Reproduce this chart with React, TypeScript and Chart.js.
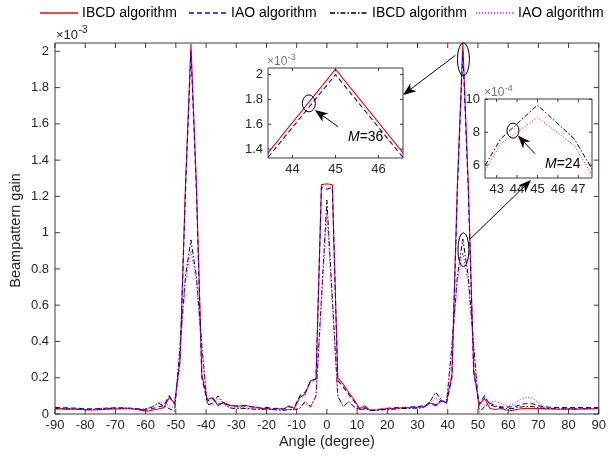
import React, { useEffect, useRef } from "react";
import { Chart, registerables } from "chart.js";

Chart.register(...registerables);

// ---------------- data (gain in units of 1e-3) ----------------
const angles = [
  -90, -88.2, -86.4, -84.6, -82.8, -81, -79.2, -77.4, -75.6, -73.8,
  -72, -70.2, -68.4, -66.6, -64.8, -63, -61.2, -59.4, -57.6, -55.8,
  -54, -52.2, -50.4, -48.6, -46.8, -45, -43.2, -41.4, -39.6, -37.8,
  -36, -34.2, -32.4, -30.6, -28.8, -27, -25.2, -23.4, -21.6, -19.8,
  -18, -16.2, -14.4, -12.6, -10.8, -9, -7.2, -5.4, -3.6, -1.8,
  0,
  1.8, 3.6, 5.4, 7.2, 9, 10.8, 12.6, 14.4, 16.2, 18,
  19.8, 21.6, 23.4, 25.2, 27, 28.8, 30.6, 32.4, 34.2, 36,
  37.8, 39.6, 41.4, 43.2, 45, 46.8, 48.6, 50.4, 52.2, 54,
  55.8, 57.6, 59.4, 61.2, 63, 64.8, 66.6, 68.4, 70.2, 72,
  73.8, 75.6, 77.4, 79.2, 81, 82.8, 84.6, 86.4, 88.2, 90,
];

const ibcdM36 = [
  0.028, 0.028, 0.027, 0.027, 0.026, 0.025, 0.022, 0.022, 0.024, 0.025,
  0.027, 0.028, 0.028, 0.030, 0.029, 0.025, 0.020, 0.015, 0.022, 0.028,
  0.035, 0.090, 0.060, 0.300, 1.270, 2.040, 1.270, 0.220, 0.080, 0.090,
  0.045, 0.065, 0.050, 0.045, 0.044, 0.048, 0.040, 0.038, 0.030, 0.032,
  0.025, 0.030, 0.025, 0.045, 0.030, 0.090, 0.110, 0.185, 0.190, 1.265,
  1.270,
  1.265, 0.200, 0.165, 0.120, 0.080, 0.030, 0.045, 0.018, 0.022, 0.025,
  0.030, 0.030, 0.033, 0.033, 0.035, 0.036, 0.038, 0.040, 0.060, 0.045,
  0.070, 0.065, 0.220, 1.270, 2.043, 1.270, 0.240, 0.050, 0.085, 0.030,
  0.025, 0.030, 0.022, 0.020, 0.025, 0.030, 0.032, 0.030, 0.030, 0.028,
  0.028, 0.027, 0.026, 0.026, 0.027, 0.027, 0.028, 0.028, 0.029, 0.030,
];

const iaoM36 = [
  0.035, 0.035, 0.034, 0.033, 0.032, 0.030, 0.028, 0.028, 0.030, 0.032,
  0.033, 0.034, 0.033, 0.032, 0.031, 0.030, 0.025, 0.022, 0.030, 0.040,
  0.045, 0.100, 0.055, 0.290, 1.235, 2.000, 1.235, 0.200, 0.070, 0.085,
  0.055, 0.060, 0.048, 0.045, 0.042, 0.045, 0.040, 0.035, 0.033, 0.037,
  0.030, 0.032, 0.028, 0.040, 0.035, 0.100, 0.120, 0.180, 0.195, 1.250,
  1.240,
  1.250, 0.185, 0.150, 0.110, 0.070, 0.025, 0.035, 0.018, 0.025, 0.028,
  0.032, 0.033, 0.035, 0.036, 0.038, 0.040, 0.042, 0.044, 0.065, 0.050,
  0.075, 0.060, 0.200, 1.235, 2.000, 1.235, 0.230, 0.055, 0.100, 0.050,
  0.040, 0.040, 0.038, 0.040, 0.045, 0.055, 0.058, 0.055, 0.045, 0.040,
  0.037, 0.036, 0.035, 0.035, 0.035, 0.035, 0.035, 0.035, 0.035, 0.035,
];

const ibcdM24 = [
  0.030, 0.030, 0.029, 0.028, 0.027, 0.026, 0.025, 0.025, 0.027, 0.030,
  0.031, 0.032, 0.033, 0.034, 0.031, 0.027, 0.025, 0.030, 0.040, 0.060,
  0.045, 0.030, 0.015, 0.380, 0.760, 0.960, 0.760, 0.380, 0.050, 0.060,
  0.100, 0.060, 0.035, 0.030, 0.032, 0.030, 0.028, 0.026, 0.025, 0.028,
  0.025, 0.022, 0.020, 0.025, 0.025, 0.030, 0.070, 0.040, 0.100, 0.640,
  1.180,
  0.640, 0.100, 0.040, 0.070, 0.040, 0.025, 0.028, 0.022, 0.020, 0.022,
  0.025, 0.026, 0.028, 0.030, 0.030, 0.032, 0.032, 0.040, 0.070, 0.120,
  0.080, 0.060, 0.380, 0.760, 0.965, 0.760, 0.380, 0.010, 0.040, 0.060,
  0.045, 0.035, 0.030, 0.030, 0.035, 0.040, 0.042, 0.040, 0.035, 0.032,
  0.030, 0.030, 0.029, 0.029, 0.029, 0.029, 0.029, 0.029, 0.029, 0.030,
];

const iaoM24 = [
  0.030, 0.030, 0.029, 0.028, 0.027, 0.026, 0.025, 0.026, 0.028, 0.030,
  0.032, 0.032, 0.032, 0.031, 0.030, 0.027, 0.025, 0.030, 0.045, 0.065,
  0.060, 0.050, 0.030, 0.350, 0.730, 0.900, 0.730, 0.350, 0.060, 0.050,
  0.085, 0.055, 0.040, 0.035, 0.035, 0.033, 0.030, 0.028, 0.027, 0.028,
  0.026, 0.025, 0.022, 0.025, 0.025, 0.030, 0.060, 0.035, 0.100, 0.600,
  1.110,
  0.600, 0.100, 0.040, 0.065, 0.035, 0.025, 0.028, 0.024, 0.025, 0.028,
  0.030, 0.032, 0.034, 0.035, 0.036, 0.037, 0.040, 0.045, 0.060, 0.090,
  0.075, 0.055, 0.350, 0.730, 0.890, 0.720, 0.350, 0.030, 0.050, 0.065,
  0.070, 0.060, 0.045, 0.050, 0.070, 0.085, 0.092, 0.085, 0.060, 0.040,
  0.033, 0.031, 0.030, 0.030, 0.030, 0.030, 0.030, 0.030, 0.030, 0.031,
];

const xTickValues = [-90, -80, -70, -60, -50, -40, -30, -20, -10, 0, 10, 20, 30, 40, 50, 60, 70, 80, 90];
const yTickValues = [0, 0.2, 0.4, 0.6, 0.8, 1, 1.2, 1.4, 1.6, 1.8, 2];
const inset36XTicks = [44, 45, 46];
const inset36YTicks = [1.4, 1.6, 1.8, 2];
const inset24XTicks = [43, 44, 45, 46, 47];
const inset24YTicks = [6, 8, 10];
const legendLabels = ["IBCD algorithm", "IAO algorithm", "IBCD algorithm", "IAO algorithm"];
const xTitle = "Angle (degree)";
const yTitle = "Beampattern gain";

// ---------------- styling / layout ----------------
const FONT = "'Liberation Sans', Arial, Helvetica, sans-serif";
const AX = "#262626";
const W = 610;
const H = 459;
const MAIN = { l: 55, t: 43, r: 601, b: 414 };
const IN1 = { l: 268, t: 68, r: 403, b: 158 };
const IN2 = { l: 485, t: 99, r: 592, b: 178 };
const PAD = { l: 40, t: 18, r: 8, b: 30 };
const LEGEND_TEXT_X = [82, 231, 372, 518];

const styles = [
  { color: "#ff0000", dash: [] as number[], width: 1.1 },
  { color: "#0000ff", dash: [5, 3], width: 1.1 },
  { color: "#000000", dash: [5, 2, 1.5, 2], width: 1 },
  { color: "#ff00ff", dash: [1.2, 1.8], width: 1 },
];

function dataset(values: number[], si: number, factor = 1) {
  const s = styles[si];
  return {
    label: legendLabels[si],
    data: angles.map((a, i) => ({ x: a, y: values[i] * factor })),
    borderColor: s.color,
    borderWidth: s.width,
    borderDash: s.dash.slice(),
    pointRadius: 0,
    tension: 0,
    fill: false,
    order: 4 - si,
  };
}

function ellipse(ctx: CanvasRenderingContext2D, cx: number, cy: number, rx: number, ry: number) {
  ctx.save();
  ctx.strokeStyle = "#000";
  ctx.lineWidth = 1;
  ctx.setLineDash([]);
  ctx.beginPath();
  ctx.ellipse(cx, cy, rx, ry, 0, 0, Math.PI * 2);
  ctx.stroke();
  ctx.restore();
}

function arrow(ctx: CanvasRenderingContext2D, x1: number, y1: number, x2: number, y2: number, hl = 13, hw = 5) {
  const ang = Math.atan2(y2 - y1, x2 - x1);
  const c = Math.cos(ang), s = Math.sin(ang);
  ctx.save();
  ctx.strokeStyle = "#000";
  ctx.fillStyle = "#000";
  ctx.lineWidth = 1;
  ctx.setLineDash([]);
  ctx.beginPath();
  ctx.moveTo(x1, y1);
  ctx.lineTo(x2 - c * hl * 0.7, y2 - s * hl * 0.7);
  ctx.stroke();
  const bx = x2 - c * hl, by = y2 - s * hl;
  const nx = x2 - c * hl * 0.72, ny = y2 - s * hl * 0.72;
  ctx.beginPath();
  ctx.moveTo(x2, y2);
  ctx.lineTo(bx - s * hw, by + c * hw);
  ctx.lineTo(nx, ny);
  ctx.lineTo(bx + s * hw, by - c * hw);
  ctx.closePath();
  ctx.fill();
  ctx.restore();
}

function frame(chart: any, xt: number[], yt: number[], tick: number, lw: number) {
  const { ctx, chartArea: a, scales } = chart;
  ctx.save();
  ctx.strokeStyle = AX;
  ctx.lineWidth = lw;
  ctx.setLineDash([]);
  ctx.beginPath();
  ctx.rect(a.left, a.top, a.right - a.left, a.bottom - a.top);
  for (const v of xt) {
    const px = scales.x.getPixelForValue(v);
    ctx.moveTo(px, a.bottom);
    ctx.lineTo(px, a.bottom - tick);
    ctx.moveTo(px, a.top);
    ctx.lineTo(px, a.top + tick);
  }
  for (const v of yt) {
    const py = scales.y.getPixelForValue(v);
    ctx.moveTo(a.left, py);
    ctx.lineTo(a.left + tick, py);
    ctx.moveTo(a.right, py);
    ctx.lineTo(a.right - tick, py);
  }
  ctx.stroke();
  ctx.restore();
}

function exponent(ctx: CanvasRenderingContext2D, x: number, y: number, exp: string, color: string, size = 13) {
  ctx.save();
  ctx.fillStyle = color;
  ctx.textBaseline = "alphabetic";
  ctx.textAlign = "left";
  ctx.font = `${size}px ${FONT}`;
  const base = "\u00d710";
  ctx.fillText(base, x, y);
  const w = ctx.measureText(base).width;
  ctx.font = `${Math.round(size * 0.75)}px ${FONT}`;
  ctx.fillText(exp, x + w + 0.5, y - size * 0.45);
  ctx.restore();
}

function mLabel(ctx: CanvasRenderingContext2D, x: number, y: number, rest: string) {
  ctx.save();
  ctx.fillStyle = "#000";
  ctx.textBaseline = "alphabetic";
  ctx.textAlign = "left";
  ctx.font = `italic 14px ${FONT}`;
  ctx.fillText("M", x, y);
  const w = ctx.measureText("M").width;
  ctx.font = `14px ${FONT}`;
  ctx.fillText(rest, x + w, y);
  ctx.restore();
}

function drawLegend(ctx: CanvasRenderingContext2D) {
  const ly = 13;
  ctx.save();
  ctx.font = `14px ${FONT}`;
  ctx.textBaseline = "middle";
  ctx.textAlign = "left";
  legendLabels.forEach((lab, i) => {
    const s = styles[i];
    const x0 = LEGEND_TEXT_X[i] - 42;
    const x1 = LEGEND_TEXT_X[i] - 4;
    ctx.save();
    ctx.globalCompositeOperation = "source-over";
    ctx.globalAlpha = 1;
    ctx.strokeStyle = s.color;
    ctx.lineWidth = 1.5;
    ctx.setLineDash(s.dash);
    ctx.beginPath();
    ctx.moveTo(x0, ly);
    ctx.lineTo(x1, ly);
    ctx.stroke();
    ctx.restore();
    ctx.fillStyle = "#000";
    ctx.fillText(lab, LEGEND_TEXT_X[i], ly);
  });
  ctx.restore();
}

const mainPlugin = {
  id: "mainDecor",
  afterDraw(chart: any) {
    const { ctx, chartArea: a, scales } = chart;
    frame(chart, xTickValues, yTickValues, 5, 0.9);
    exponent(ctx, a.left + 1, a.top - 4, "-3", AX, 13);
    // axis titles
    ctx.save();
    ctx.fillStyle = AX;
    ctx.font = `14.5px ${FONT}`;
    ctx.textAlign = "center";
    ctx.textBaseline = "middle";
    ctx.fillText(xTitle, (a.left + a.right) / 2, 442);
    ctx.translate(16, (a.top + a.bottom) / 2 + 2);
    ctx.rotate(-Math.PI / 2);
    ctx.fillText(yTitle, 0, 0);
    ctx.restore();
    drawLegend(ctx);
    // ellipses at the 45 degree peaks, arrows to the insets
    const ex = scales.x.getPixelForValue(45.2);
    const e1y = scales.y.getPixelForValue(1.956);
    const e2y = scales.y.getPixelForValue(0.906);
    ellipse(ctx, ex, e1y, 6, 16.5);
    ellipse(ctx, ex, e2y, 5.5, 17);
    arrow(ctx, ex - 8, e1y - 4, IN1.r, 95);
    arrow(ctx, ex + 6, e2y - 10, 531, 180);
  },
};

function insetPlugin(xt: number[], yt: number[], exp: string, decor: (chart: any) => void) {
  return {
    id: "insetDecor",
    beforeDatasetsDraw(chart: any) {
      const { ctx, chartArea: a } = chart;
      ctx.save();
      ctx.fillStyle = "#fff";
      ctx.fillRect(a.left, a.top, a.right - a.left, a.bottom - a.top);
      ctx.restore();
    },
    afterDraw(chart: any) {
      const { ctx, chartArea: a } = chart;
      frame(chart, xt, yt, 3, 0.9);
      exponent(ctx, a.left - 1, a.top - 3, exp, "#777", 12);
      decor(chart);
    },
  };
}

function insetConfig(
  ds: any[],
  xr: [number, number],
  yr: [number, number],
  xt: number[],
  yt: number[],
  exp: string,
  decor: (chart: any) => void
) {
  return {
    type: "line",
    data: { datasets: ds },
    options: {
      responsive: false,
      animation: false,
      events: [],
      layout: { padding: { left: 0, top: PAD.t, right: PAD.r, bottom: 0 } },
      plugins: { legend: { display: false }, tooltip: { enabled: false } },
      scales: {
        x: {
          type: "linear",
          min: xr[0],
          max: xr[1],
          afterBuildTicks: (s: any) => {
            s.ticks = xt.map((value) => ({ value }));
          },
          afterFit: (s: any) => {
            s.height = PAD.b;
          },
          grid: { display: false, drawTicks: false },
          border: { display: false },
          ticks: { autoSkip: false, maxRotation: 0, padding: 4, color: AX, font: { family: FONT, size: 13 }, callback: (v: any) => String(v) },
        },
        y: {
          type: "linear",
          min: yr[0],
          max: yr[1],
          afterBuildTicks: (s: any) => {
            s.ticks = yt.map((value) => ({ value }));
          },
          afterFit: (s: any) => {
            s.width = PAD.l;
          },
          grid: { display: false, drawTicks: false },
          border: { display: false },
          ticks: { padding: 5, color: AX, font: { family: FONT, size: 13 }, callback: (v: any) => String(Math.round(v * 10) / 10) },
        },
      },
    },
    plugins: [insetPlugin(xt, yt, exp, decor)],
  } as any;
}

export default function App() {
  const mainRef = useRef<HTMLCanvasElement>(null);
  const in1Ref = useRef<HTMLCanvasElement>(null);
  const in2Ref = useRef<HTMLCanvasElement>(null);

  useEffect(() => {
    const charts: Chart[] = [];
    charts.push(
      new Chart(mainRef.current as HTMLCanvasElement, {
        type: "line",
        data: {
          datasets: [dataset(ibcdM36, 0), dataset(iaoM36, 1), dataset(ibcdM24, 2), dataset(iaoM24, 3)],
        },
        options: {
          responsive: false,
          animation: false,
          events: [],
          layout: { padding: { left: 0, top: MAIN.t, right: W - MAIN.r, bottom: 0 } },
          plugins: { legend: { display: false }, tooltip: { enabled: false } },
          scales: {
            x: {
              type: "linear",
              min: -90,
              max: 90,
              afterBuildTicks: (s: any) => {
                s.ticks = xTickValues.map((value) => ({ value }));
              },
              afterFit: (s: any) => {
                s.height = H - MAIN.b;
              },
              grid: { display: false, drawTicks: false },
              border: { display: false },
              ticks: { autoSkip: false, maxRotation: 0, padding: 4, color: AX, font: { family: FONT, size: 13 }, callback: (v: any) => String(v) },
            },
            y: {
              type: "linear",
              min: 0,
              max: 2.046,
              afterBuildTicks: (s: any) => {
                s.ticks = yTickValues.map((value) => ({ value }));
              },
              afterFit: (s: any) => {
                s.width = MAIN.l;
              },
              grid: { display: false, drawTicks: false },
              border: { display: false },
              ticks: { padding: 6, color: AX, font: { family: FONT, size: 13 }, callback: (v: any) => String(Math.round(v * 10) / 10) },
            },
          },
        },
        plugins: [mainPlugin],
      } as any)
    );

    charts.push(
      new Chart(
        in1Ref.current as HTMLCanvasElement,
        insetConfig(
          [dataset(ibcdM36, 0), dataset(iaoM36, 1)],
          [43.43, 46.57],
          [1.328, 2.053],
          inset36XTicks,
          inset36YTicks,
          "-3",
          (chart: any) => {
            const { ctx, scales } = chart;
            const X = (v: number) => scales.x.getPixelForValue(v);
            const Y = (v: number) => scales.y.getPixelForValue(v);
            ellipse(ctx, X(44.38), Y(1.768), 6.5, 8.5);
            arrow(ctx, X(45.06), Y(1.58), X(44.52), Y(1.714), 13, 5);
            mLabel(ctx, X(45.29), Y(1.466), "=36");
          }
        )
      )
    );

    charts.push(
      new Chart(
        in2Ref.current as HTMLCanvasElement,
        insetConfig(
          [dataset(ibcdM24, 2, 10), dataset(iaoM24, 3, 10)],
          [42.43, 47.67],
          [5.22, 10.02],
          inset24XTicks,
          inset24YTicks,
          "-4",
          (chart: any) => {
            const { ctx, scales } = chart;
            const X = (v: number) => scales.x.getPixelForValue(v);
            const Y = (v: number) => scales.y.getPixelForValue(v);
            ellipse(ctx, X(43.8), Y(8.1), 6, 7.5);
            arrow(ctx, X(44.88), Y(6.69), X(44.04), Y(7.8), 13, 5);
            mLabel(ctx, X(45.37), Y(5.83), "=24");
          }
        )
      )
    );

    return () => charts.forEach((c) => c.destroy());
  }, []);

  const insetStyle = (b: { l: number; t: number; r: number; b: number }) => ({
    position: "absolute" as const,
    left: b.l - PAD.l,
    top: b.t - PAD.t,
  });
  const insetW = (b: { l: number; r: number }) => b.r - b.l + PAD.l + PAD.r;
  const insetH = (b: { t: number; b: number }) => b.b - b.t + PAD.t + PAD.b;

  return (
    <div style={{ position: "fixed", left: 0, top: 0, width: W, height: H, background: "#fff", overflow: "hidden" }}>
      <canvas ref={mainRef} width={W} height={H} style={{ position: "absolute", left: 0, top: 0 }} />
      <canvas ref={in1Ref} width={insetW(IN1)} height={insetH(IN1)} style={insetStyle(IN1)} />
      <canvas ref={in2Ref} width={insetW(IN2)} height={insetH(IN2)} style={insetStyle(IN2)} />
    </div>
  );
}
